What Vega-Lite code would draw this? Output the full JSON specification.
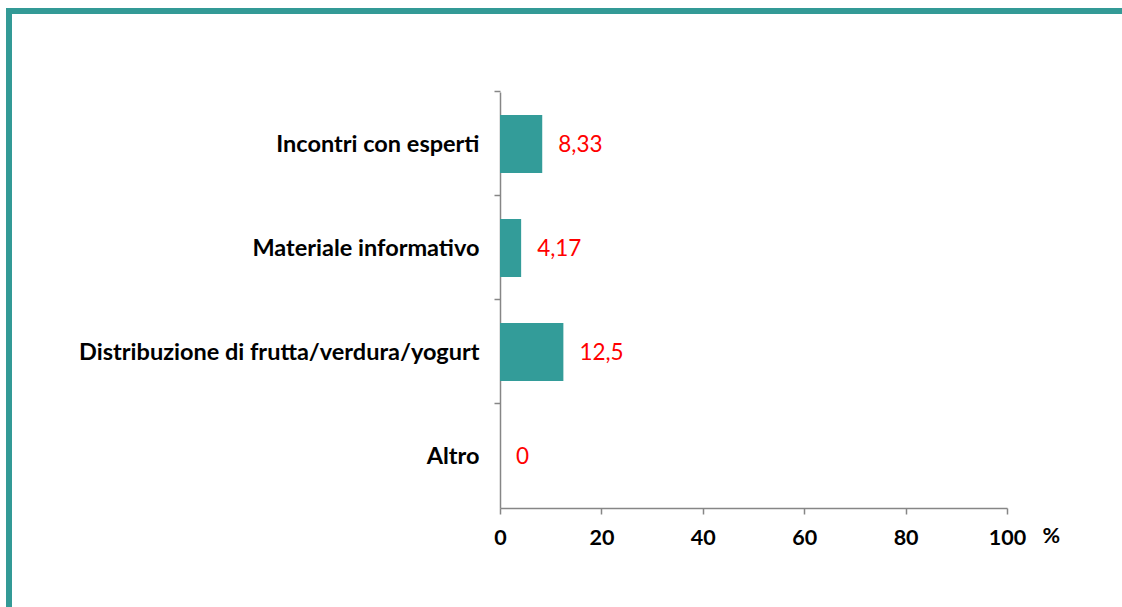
{
  "$schema": "https://vega.github.io/schema/vega-lite/v6.json",
  "width": 507,
  "height": 416,
  "autosize": {"type": "none"},
  "padding": {"left": 500, "top": 92, "right": 115, "bottom": 99},
  "background": "white",
  "config": {
    "view": {"stroke": null},
    "font": "Lato",
    "locale": {"number": {"decimal": ",", "thousands": ".", "grouping": [3], "currency": ["€", ""]}}
  },
  "data": {"values": [
    {"categoria": "Incontri con esperti", "valore": 8.33},
    {"categoria": "Materiale informativo", "valore": 4.17},
    {"categoria": "Distribuzione di frutta/verdura/yogurt", "valore": 12.5},
    {"categoria": "Altro", "valore": 0}
  ]},
  "encoding": {
    "y": {
      "field": "categoria", "type": "nominal", "sort": null,
      "scale": {"paddingInner": 0.44, "paddingOuter": 0.22}
    },
    "x": {"field": "valore", "type": "quantitative"}
  },
  "layer": [
    {
      "mark": {"type": "bar", "color": "#339C99"},
      "encoding": {
        "x": {
          "field": "valore", "type": "quantitative",
          "scale": {"domain": [0, 100], "nice": false},
          "axis": {
            "values": [0, 20, 40, 60, 80, 100], "grid": false,
            "domainColor": "#868686", "tickColor": "#868686", "tickSize": 6, "domainWidth": 1.5, "tickWidth": 1.5,
            "labelFont": "Lato", "labelFontSize": 21.5, "labelFontWeight": "bold", "labelColor": "#000000",
            "labelPadding": 13, "labelFlush": false,
            "title": "%", "titleFont": "Lato", "titleFontSize": 21.5, "titleFontWeight": "bold", "titleColor": "#000000",
            "titleX": 542, "titleY": 28, "titleAlign": "left", "titleBaseline": "middle", "titleAnchor": null
          }
        },
        "y": {
          "field": "categoria", "type": "nominal", "sort": null,
          "axis": {
            "orient": "left", "title": null, "ticks": false, "domainColor": "#868686", "domainWidth": 1.5,
            "labelFont": "Lato", "labelFontSize": 23.5, "labelFontWeight": "bold", "labelColor": "#000000",
            "labelPadding": 21, "labelLimit": 600, "labelOffset": 1
          }
        }
      }
    },
    {
      "mark": {"type": "text", "align": "left", "baseline": "middle", "dx": 16, "dy": 1, "font": "Lato", "fontSize": 22.5, "color": "#FF0000"},
      "encoding": {
        "text": {"field": "valore", "type": "quantitative", "format": ".4~g"},
        "y": {
          "field": "categoria", "type": "nominal", "sort": null,
          "axis": {
            "orient": "left", "title": null, "labels": false, "domain": false, "ticks": true, "bandPosition": -0.393,
            "tickColor": "#868686", "tickSize": 6, "tickWidth": 1.5
          }
        }
      }
    },
    {
      "data": {"values": [{"cornice": "bordo"}]},
      "mark": {"type": "rect", "fill": null, "stroke": "#339A96", "strokeWidth": 6, "clip": false},
      "encoding": {
        "x": {"value": -491},
        "x2": {"value": 700},
        "y": {"value": -81},
        "y2": {"value": 700}
      }
    }
  ],
  "resolve": {"axis": {"y": "independent"}}
}
